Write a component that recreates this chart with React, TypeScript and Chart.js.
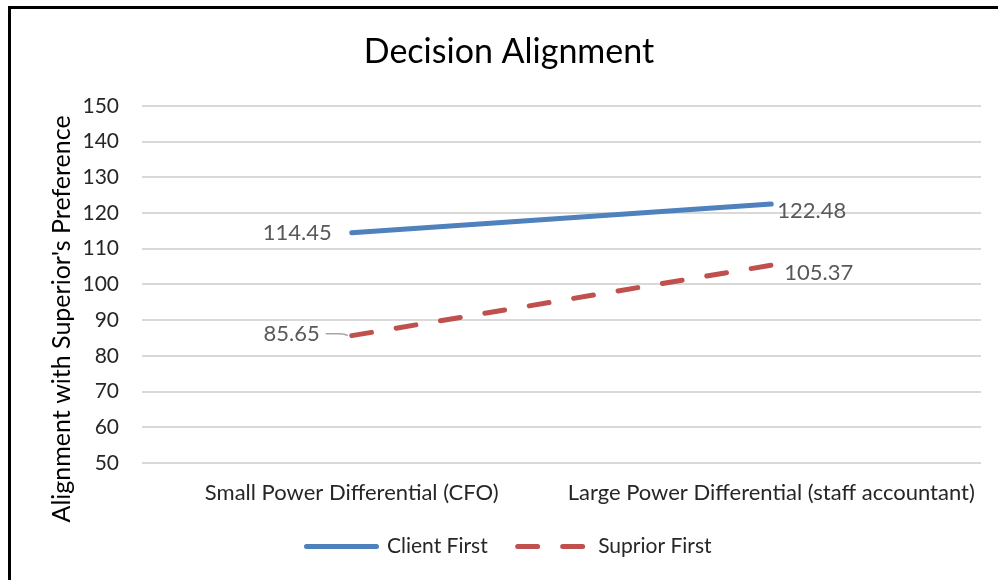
import React, { useEffect, useRef } from 'react';
import { Chart, registerables } from 'chart.js';

Chart.register(...registerables);

const chartTitle = 'Decision Alignment';
const yAxisTitle = "Alignment with Superior's Preference";
const categories = ['Small Power Differential (CFO)', 'Large Power Differential (staff accountant)'];
const seriesNames = ['Client First', 'Suprior First'];
const clientFirst = [114.45, 122.48];
const supriorFirst = [85.65, 105.37];
const yMin = 50;
const yMax = 150;
const yStep = 10;

const FONT = 'Lato';
const BLUE = '#4F81BD';
const RED = '#C0504D';
const PAD_LEFT = 37;

// label offsets relative to each point: [dx, dy, align]
const labelPlacement: [number, number, CanvasTextAlign][][] = [
  [[-20, 0, 'right'], [6, 7, 'left']],
  [[-32, -2, 'right'], [13, 8, 'left']],
];

const dataLabelPlugin = {
  id: 'dataLabels',
  afterDatasetsDraw(chart: any) {
    const ctx = chart.ctx;
    ctx.save();
    ctx.font = `22px ${FONT}`;
    ctx.fillStyle = '#595959';
    ctx.textBaseline = 'middle';
    chart.data.datasets.forEach((ds: any, di: number) => {
      const meta = chart.getDatasetMeta(di);
      meta.data.forEach((pt: any, i: number) => {
        const [dx, dy, align] = labelPlacement[di][i];
        const v = ds.data[i];
        ctx.textAlign = align;
        ctx.fillText(v.toFixed(2), pt.x + dx, pt.y + dy);
        if (di === 1 && i === 0) {
          // leader line
          ctx.save();
          ctx.strokeStyle = '#A6A6A6';
          ctx.lineWidth = 1.5;
          ctx.beginPath();
          ctx.moveTo(pt.x + dx + 6, pt.y + dy);
          ctx.lineTo(pt.x - 12, pt.y + dy);
          ctx.quadraticCurveTo(pt.x - 7, pt.y + dy, pt.x - 4, pt.y);
          ctx.stroke();
          ctx.restore();
        }
      });
    });
    ctx.restore();
  },
};

const yTitlePlugin = {
  id: 'yTitle',
  afterDraw(chart: any) {
    const ctx = chart.ctx;
    const area = chart.chartArea;
    const xs = chart.scales.x;
    ctx.save();
    ctx.font = `25px ${FONT}`;
    ctx.fillStyle = '#000000';
    ctx.textAlign = 'center';
    ctx.textBaseline = 'middle';
    ctx.translate(62, (area.top + xs.bottom) / 2 + 13);
    ctx.rotate(-Math.PI / 2);
    ctx.fillText(yAxisTitle, 0, 0);
    ctx.restore();
  },
};

export default function App() {
  const canvasRef = useRef<HTMLCanvasElement | null>(null);

  useEffect(() => {
    let chart: Chart | null = null;
    let cancelled = false;
    const make = () => {
      if (cancelled || !canvasRef.current) return;
      chart = new Chart(canvasRef.current, {
        type: 'line',
        data: {
          labels: categories,
          datasets: [
            {
              label: seriesNames[0],
              data: clientFirst,
              borderColor: BLUE,
              backgroundColor: BLUE,
              borderWidth: 5,
              borderCapStyle: 'round',
              pointRadius: 0,
              pointHoverRadius: 0,
            },
            {
              label: seriesNames[1],
              data: supriorFirst,
              borderColor: RED,
              backgroundColor: RED,
              borderWidth: 5,
              borderCapStyle: 'round',
              borderDash: [20, 25],
              pointRadius: 0,
              pointHoverRadius: 0,
            },
          ],
        },
        options: {
          responsive: false,
          animation: false,
          layout: { padding: { top: 0, left: PAD_LEFT, right: 17, bottom: 13 } },
          font: { family: FONT },
          plugins: {
            title: {
              display: true,
              text: chartTitle,
              color: '#000000',
              font: { family: FONT, size: 34, weight: 'normal' },
              padding: { top: 32, bottom: 33 },
            },
            legend: {
              position: 'bottom',
              labels: {
                usePointStyle: true,
                pointStyle: 'line',
                pointStyleWidth: 70,
                padding: 30,
                color: '#262626',
                font: { family: FONT, size: 21 },
                generateLabels: (c: any) => {
                  const items = (Chart.defaults.plugins.legend.labels as any).generateLabels(c);
                  items.forEach((it: any) => {
                    const ds: any = c.data.datasets[it.datasetIndex];
                    it.lineDash = ds.borderDash || [];
                    it.lineWidth = ds.borderWidth;
                    it.lineCap = 'round';
                    it.strokeStyle = ds.borderColor;
                    it.fillStyle = ds.borderColor;
                    it.pointStyle = 'line';
                  });
                  return items;
                },
              },
            },
            tooltip: { enabled: false },
          },
          scales: {
            x: {
              type: 'category',
              offset: true,
              grid: { display: false, drawTicks: false },
              border: { display: false },
              ticks: {
                color: '#262626',
                font: { family: FONT, size: 22 },
                padding: 17,
                maxRotation: 0,
                autoSkip: false,
              },
              afterFit: (s: any) => {
                s.height = 43;
              },
            },
            y: {
              min: yMin,
              max: yMax,
              grid: { color: '#D9D9D9', lineWidth: 2, drawTicks: false },
              border: { display: false },
              ticks: {
                stepSize: yStep,
                color: '#262626',
                font: { family: FONT, size: 21 },
                padding: 23,
              },
              afterFit: (s: any) => {
                s.width = 142 - PAD_LEFT;
              },
            },
          },
        },
        plugins: [dataLabelPlugin, yTitlePlugin],
      });
    };
    const fontsReady = (document as any).fonts
      ? Promise.all([
          (document as any).fonts.load(`21px ${FONT}`),
          (document as any).fonts.load(`34px ${FONT}`),
        ]).catch(() => null)
      : Promise.resolve(null);
    fontsReady.then(make);
    return () => {
      cancelled = true;
      if (chart) chart.destroy();
    };
  }, []);

  return (
    <div style={{ position: 'absolute', left: 0, top: 0, width: 998, height: 580, overflow: 'hidden', background: '#ffffff' }}>
      <div
        style={{
          position: 'absolute',
          left: 8,
          top: 6,
          width: 990,
          height: 574,
          borderTop: '3px solid #000',
          borderLeft: '3px solid #000',
          boxSizing: 'border-box',
        }}
      />
      <canvas ref={canvasRef} width={998} height={580} style={{ position: 'absolute', left: 0, top: 0, width: 998, height: 580 }} />
    </div>
  );
}
